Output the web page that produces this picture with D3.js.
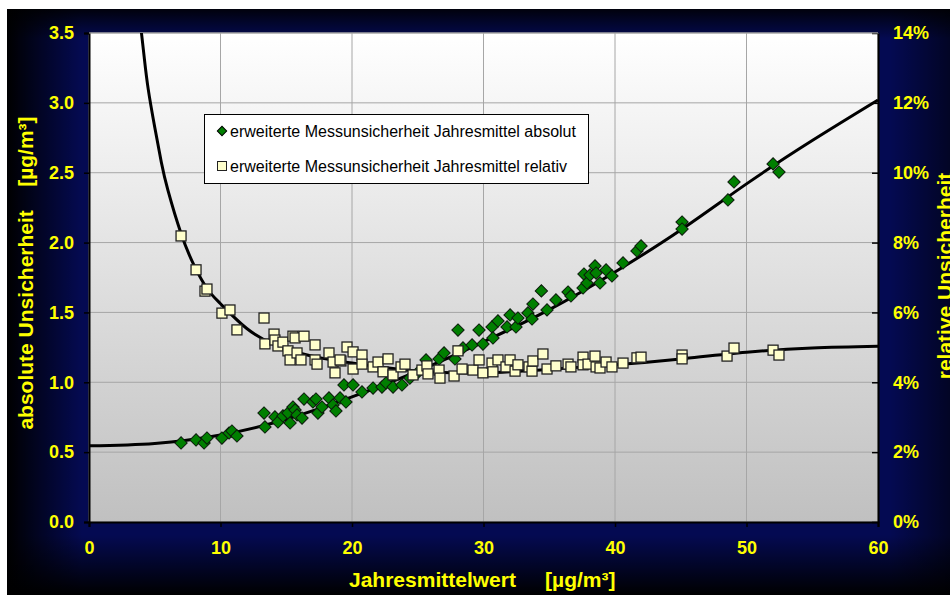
<!DOCTYPE html>
<html>
<head>
<meta charset="utf-8">
<script src="https://cdn.jsdelivr.net/npm/d3@7/dist/d3.min.js"></script>
<style>
html,body{margin:0;padding:0;background:#fff;}
svg{display:block;}
text{font-family:"Liberation Sans",Arial,sans-serif;}
</style>
</head>
<body>
<svg id="chart" width="950" height="595"></svg>
<script>
// ---------- data ----------
const xTicks = [0, 10, 20, 30, 40, 50, 60];
const yTicks = [0, 0.5, 1.0, 1.5, 2.0, 2.5, 3.0, 3.5];
const yRTicks = [0, 2, 4, 6, 8, 10, 12, 14];

// absolute expanded uncertainty of annual mean [µg/m³]
const absX = [7.0, 8.14, 8.75, 8.97, 10.11, 10.65, 10.87, 11.25, 13.31, 13.38, 14.14, 14.37, 14.75, 15.13, 15.29, 15.51, 15.67, 15.82, 16.20, 16.35, 17.03, 17.26, 17.41, 17.72, 18.25, 18.56, 18.78, 19.09, 19.54, 19.39, 20.08, 20.76, 21.60, 22.28, 22.59, 23.12, 23.80, 24.4, 25.0, 25.63, 26.62, 27.00, 27.83, 28.06, 28.44, 29.13, 29.66, 29.96, 30.65, 30.72, 31.10, 31.79, 32.02, 32.47, 32.62, 33.38, 33.69, 33.76, 34.4, 34.83, 35.51, 36.43, 36.65, 37.57, 37.64, 37.87, 38.10, 38.48, 38.56, 38.86, 39.32, 39.77, 40.61, 41.67, 41.98, 45.10, 45.10, 48.59, 49.05, 52.02, 52.47];
const absY = [0.566, 0.587, 0.566, 0.601, 0.601, 0.637, 0.651, 0.616, 0.780, 0.680, 0.752, 0.716, 0.759, 0.780, 0.709, 0.823, 0.802, 0.766, 0.744, 0.880, 0.859, 0.880, 0.780, 0.823, 0.888, 0.838, 0.795, 0.888, 0.859, 0.981, 0.981, 0.931, 0.959, 0.966, 0.995, 0.966, 0.981, 1.03, 1.07, 1.160, 1.167, 1.210, 1.167, 1.374, 1.246, 1.267, 1.374, 1.274, 1.396, 1.317, 1.439, 1.396, 1.482, 1.396, 1.460, 1.496, 1.453, 1.560, 1.654, 1.518, 1.589, 1.646, 1.618, 1.675, 1.775, 1.711, 1.768, 1.833, 1.782, 1.711, 1.804, 1.761, 1.854, 1.940, 1.976, 2.147, 2.097, 2.305, 2.434, 2.563, 2.505];

// relative expanded uncertainty [%]
const relX = [7.0, 8.14, 8.82, 8.97, 10.11, 10.72, 11.25, 13.31, 13.38, 14.07, 14.14, 14.37, 14.75, 15.13, 15.29, 15.51, 15.67, 15.82, 16.12, 16.35, 17.19, 17.19, 17.34, 18.25, 18.56, 18.71, 19.16, 19.62, 20.08, 20.76, 19.09, 20.08, 20.76, 21.60, 21.98, 22.36, 22.74, 23.12, 23.73, 24.03, 24.64, 25.32, 25.70, 25.78, 26.62, 26.69, 27.76, 28.06, 28.37, 29.20, 29.66, 29.96, 30.65, 30.72, 31.10, 31.71, 32.02, 32.40, 32.62, 33.46, 33.69, 33.76, 34.52, 34.83, 35.51, 36.43, 36.65, 37.57, 37.57, 37.95, 38.48, 38.56, 38.86, 39.32, 39.77, 40.61, 41.67, 41.98, 45.10, 45.10, 48.52, 49.05, 52.02, 52.47];
const relY = [8.19, 7.22, 6.61, 6.67, 5.98, 6.07, 5.50, 5.84, 5.10, 5.38, 5.21, 5.04, 5.15, 4.90, 4.64, 5.32, 5.27, 4.84, 4.64, 5.32, 5.07, 4.64, 4.52, 4.84, 4.58, 4.27, 4.61, 5.01, 4.87, 4.78, 4.64, 4.38, 4.52, 4.44, 4.58, 4.30, 4.67, 4.21, 4.44, 4.52, 4.21, 4.35, 4.47, 4.24, 4.35, 4.12, 4.18, 4.90, 4.38, 4.35, 4.64, 4.27, 4.55, 4.30, 4.64, 4.44, 4.64, 4.32, 4.50, 4.44, 4.32, 4.61, 4.81, 4.38, 4.47, 4.52, 4.44, 4.72, 4.50, 4.52, 4.75, 4.44, 4.41, 4.58, 4.44, 4.55, 4.70, 4.72, 4.78, 4.67, 4.75, 4.98, 4.92, 4.78];

// fitted trend curves
const absCurveX = [0, 5, 10, 15, 20, 25, 30, 35, 40, 45, 50, 55, 60];
const absCurveY = [0.545, 0.562, 0.622, 0.735, 0.895, 1.08, 1.29, 1.52, 1.79, 2.09, 2.42, 2.73, 3.02];
const relCurveX = [3.9, 4.2, 4.5, 5, 5.5, 6, 7, 8, 9, 10, 12, 14, 16, 18, 20, 25, 30, 35, 40, 45, 50, 55, 60];
const relCurveY = [14.3, 13.3, 12.4, 11.3, 10.3, 9.5, 8.26, 7.34, 6.67, 6.25, 5.54, 5.1, 4.84, 4.67, 4.55, 4.32, 4.27, 4.37, 4.5, 4.67, 4.86, 4.98, 5.03];

const legendLabels = ["erweiterte Messunsicherheit Jahresmittel absolut", "erweiterte Messunsicherheit Jahresmittel relativ"];

// ---------- layout ----------
const W = 950, H = 595;
const L = 89, R = 878, T = 33, B = 522;
const svg = d3.select("#chart");
const defs = svg.append("defs");

const x = d3.scaleLinear().domain([0, 60]).range([L, R]);
const y = d3.scaleLinear().domain([0, 3.5]).range([B, T]);
const yR = d3.scaleLinear().domain([0, 14]).range([B, T]);

function lg(id, x1, y1, x2, y2, stops) {
  const g = defs.append("linearGradient").attr("id", id)
    .attr("x1", x1).attr("y1", y1).attr("x2", x2).attr("y2", y2);
  stops.forEach(s => g.append("stop").attr("offset", s[0]).attr("stop-color", s[1]).attr("stop-opacity", s[2]));
}
lg("gLeft", 0, 0, 1, 0, [[0, "#000", 1], [1, "#000", 0]]);
lg("gTop", 0, 0, 0, 1, [[0, "#000", 0.85], [1, "#000", 0]]);
lg("gBot", 0, 0, 0, 1, [[0, "#000", 0], [1, "#000", 1]]);
lg("gRight", 0, 0, 1, 0, [[0, "#000", 0], [1, "#000", 0.55]]);
lg("gPlot", 0, 0, 0, 1, [[0, "#ffffff", 1], [1, "#c0c0c0", 1]]);

const bx = 7, by = 9;
svg.append("rect").attr("x", bx).attr("y", by).attr("width", W - bx).attr("height", H - by).attr("fill", "#040a52");
svg.append("rect").attr("x", bx).attr("y", by).attr("width", 75).attr("height", H - by).attr("fill", "url(#gLeft)");
svg.append("rect").attr("x", bx).attr("y", by).attr("width", W - bx).attr("height", 30).attr("fill", "url(#gTop)");
svg.append("rect").attr("x", bx).attr("y", 535).attr("width", W - bx).attr("height", H - 535).attr("fill", "url(#gBot)");
svg.append("rect").attr("x", 890).attr("y", by).attr("width", 60).attr("height", H - by).attr("fill", "url(#gRight)");

svg.append("rect").attr("x", L).attr("y", T).attr("width", R - L).attr("height", B - T).attr("fill", "url(#gPlot)");

defs.append("clipPath").attr("id", "plotClip").append("rect")
  .attr("x", L).attr("y", T).attr("width", R - L).attr("height", B - T);

const grid = svg.append("g");
grid.selectAll(".gx").data(xTicks).join("line")
  .attr("x1", d => x(d)).attr("x2", d => x(d)).attr("y1", T).attr("y2", B)
  .attr("stroke", "#a6a6a6").attr("stroke-width", 1);
grid.selectAll(".gy").data(yTicks).join("line")
  .attr("x1", L).attr("x2", R).attr("y1", d => y(d)).attr("y2", d => y(d))
  .attr("stroke", "#a6a6a6").attr("stroke-width", 1);

const yellow = "#ffff00";
const axL = svg.append("g").attr("transform", `translate(${L},0)`)
  .call(d3.axisLeft(y).tickValues(yTicks).tickFormat(d3.format(".1f")).tickSize(5).tickPadding(10));
const axB = svg.append("g").attr("transform", `translate(0,${B})`)
  .call(d3.axisBottom(x).tickValues(xTicks).tickFormat(d3.format("d")).tickSize(5).tickPadding(14));
const axR = svg.append("g").attr("transform", `translate(${R},0)`)
  .call(d3.axisRight(yR).tickValues(yRTicks).tickFormat(d => d + "%").tickSizeInner(-6).tickSizeOuter(0).tickPadding(15));
[axL, axB, axR].forEach(a => {
  a.selectAll(".domain").attr("stroke", "#000").attr("stroke-width", 2);
  a.selectAll(".tick line").attr("stroke", "#000").attr("stroke-width", 1.5);
  a.selectAll(".tick text").attr("fill", yellow).attr("font-size", 18).attr("font-weight", "bold")
    .attr("font-family", "'Liberation Sans', Arial, sans-serif");
});
axR.selectAll(".tick text").attr("x", 15);
svg.append("line").attr("x1", L).attr("x2", R).attr("y1", T).attr("y2", T).attr("stroke", "#a6a6a6");

const plot = svg.append("g").attr("clip-path", "url(#plotClip)");
const absLine = d3.line().x(d => x(d[0])).y(d => y(d[1])).curve(d3.curveNatural);
const relLine = d3.line().x(d => x(d[0])).y(d => yR(d[1])).curve(d3.curveNatural);
plot.append("path").datum(absCurveX.map((v, i) => [v, absCurveY[i]]))
  .attr("d", absLine).attr("fill", "none").attr("stroke", "#000").attr("stroke-width", 3);
plot.append("path").datum(relCurveX.map((v, i) => [v, relCurveY[i]]))
  .attr("d", relLine).attr("fill", "none").attr("stroke", "#000").attr("stroke-width", 3);

const diamond = d3.symbol().type(d3.symbolSquare).size(76);
plot.selectAll(".abs").data(absX.map((v, i) => [v, absY[i]])).join("path")
  .attr("d", diamond)
  .attr("transform", d => `translate(${x(d[0])},${y(d[1])}) rotate(45)`)
  .attr("fill", "#007f00").attr("stroke", "#0a1a0a").attr("stroke-width", 1);

plot.selectAll(".rel").data(relX.map((v, i) => [v, relY[i]])).join("rect")
  .attr("x", d => x(d[0]) - 5).attr("y", d => yR(d[1]) - 5)
  .attr("width", 10).attr("height", 10)
  .attr("fill", "#ffffcc").attr("stroke", "#222").attr("stroke-width", 1.3);

// legend
const lgG = svg.append("g");
lgG.append("rect").attr("x", 204.5).attr("y", 114.5).attr("width", 384).attr("height", 69)
  .attr("fill", "#fff").attr("stroke", "#000").attr("stroke-width", 1);
lgG.append("path").attr("d", d3.symbol().type(d3.symbolSquare).size(44))
  .attr("transform", "translate(222,131) rotate(45)")
  .attr("fill", "#007f00").attr("stroke", "#000").attr("stroke-width", 1);
lgG.append("rect").attr("x", 217.5).attr("y", 161.5).attr("width", 9).attr("height", 9)
  .attr("fill", "#ffffcc").attr("stroke", "#222").attr("stroke-width", 1);
lgG.selectAll(".lt").data(legendLabels).join("text")
  .attr("x", 230).attr("y", (d, i) => 137 + i * 35)
  .attr("font-size", 16).attr("fill", "#000").text(d => d);

// axis titles
svg.append("text").attr("transform", "translate(33,273) rotate(-90)")
  .attr("text-anchor", "middle").attr("fill", yellow).attr("font-size", 21).attr("font-weight", "bold")
  .style("white-space", "pre")
  .text("absolute Unsicherheit    [µg/m³]");
svg.append("text").attr("transform", "translate(952,276) rotate(-90)")
  .attr("text-anchor", "middle").attr("fill", yellow).attr("font-size", 21).attr("font-weight", "bold")
  .text("relative Unsicherheit");
svg.append("text").attr("x", 349).attr("y", 587)
  .attr("fill", yellow).attr("font-size", 21).attr("font-weight", "bold")
  .style("white-space", "pre")
  .text("Jahresmittelwert     [µg/m³]");
</script>
</body>
</html>
